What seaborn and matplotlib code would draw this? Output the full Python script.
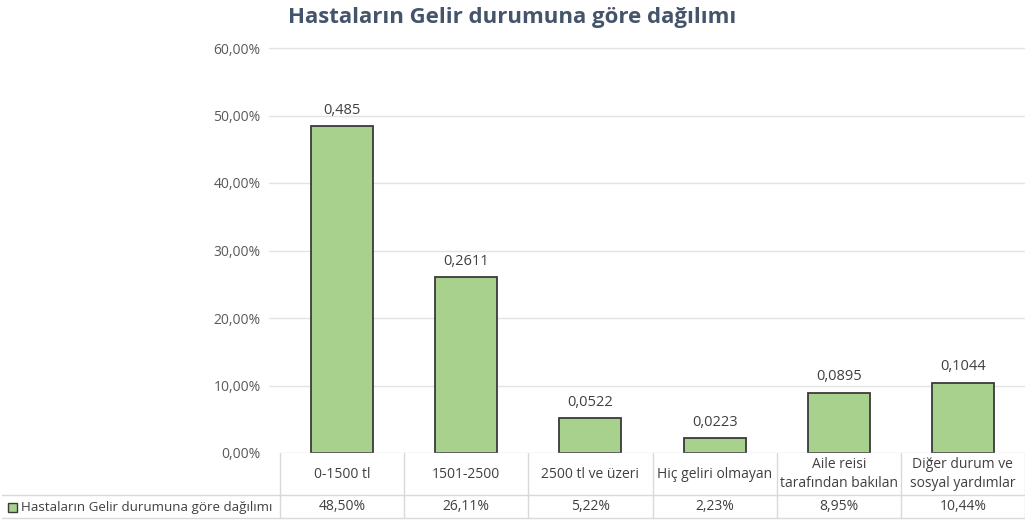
import matplotlib
matplotlib.use("Agg")
import matplotlib.pyplot as plt
import seaborn as sns
import pandas as pd
from matplotlib.lines import Line2D
from matplotlib.patches import Rectangle

categories = ["0-1500 tl", "1501-2500", "2500 tl ve üzeri", "Hiç geliri olmayan",
              "Aile reisi\ntarafından bakılan", "Diğer durum ve\nsosyal yardımlar"]
values = [0.485, 0.2611, 0.0522, 0.0223, 0.0895, 0.1044]
bar_labels = ["0,485", "0,2611", "0,0522", "0,0223", "0,0895", "0,1044"]
table_labels = ["48,50%", "26,11%", "5,22%", "2,23%", "8,95%", "10,44%"]
yticks = [0, 0.1, 0.2, 0.3, 0.4, 0.5, 0.6]
ytick_labels = ["0,00%", "10,00%", "20,00%", "30,00%", "40,00%", "50,00%", "60,00%"]
series_name = "Hastaların Gelir durumuna göre dağılımı"

df = pd.DataFrame({"cat": categories, "val": values})

sns.set_theme(style="white")
plt.rcParams["font.family"] = ["Open Sans", "DejaVu Sans"]

W, H = 1025, 523
fig = plt.figure(figsize=(W / 100, H / 100), dpi=100)
left, right, top, bottom = 280, 1025, 48, 453
ax = fig.add_axes([left / W, (H - bottom) / H, (right - left) / W, (bottom - top) / H])

green = "#A9D18E"
sns.barplot(data=df, x="cat", y="val", color=green, edgecolor="#3A3A3A",
            linewidth=1.3, width=0.5, saturation=1, ax=ax, zorder=3)

ax.set_xlim(-0.5, 5.5)
ax.set_ylim(0, 0.6)
ax.set_yticks(yticks)
ax.set_yticklabels(ytick_labels, color="#595959", fontsize=10)
ax.tick_params(axis="y", length=0, pad=14)
ax.set_xticks([])
ax.set_xlabel("")
ax.set_ylabel("")
for s in ax.spines.values():
    s.set_visible(False)

px = (right - left) / 6
grid_x0 = -0.5 - 11 / px
for y in yticks[1:]:
    ax.add_line(Line2D([grid_x0, 5.5], [y, y], color="#E3E3E3", lw=1, zorder=0, clip_on=False))
ax.axhline(0, color="#D9D9D9", lw=1, zorder=4)

for i, (v, lab) in enumerate(zip(values, bar_labels)):
    ax.text(i, v + 0.012, lab, ha="center", va="bottom", fontsize=10.5, color="#404040")

fig.text(0.5, 1 - 17 / H, "Hastaların Gelir durumuna göre dağılımı", ha="center", va="center",
         fontsize=16, fontweight="bold", color="#44546A")

# data table under the axis
tr = ax.get_xaxis_transform()
def ay(py):
    return (bottom - py) / (bottom - top)
grid_c = "#D9D9D9"
for k in range(7):
    x = -0.5 + k
    ax.add_line(Line2D([x, x], [ay(453), ay(518)], transform=tr, color=grid_c, lw=1, clip_on=False))
x_start = -0.5 + (2 - left) / px
for py in (495, 518):
    ax.add_line(Line2D([x_start, 5.5], [ay(py), ay(py)], transform=tr, color=grid_c, lw=1, clip_on=False))
for i, c in enumerate(categories):
    ax.text(i, ay(474), c, transform=tr, ha="center", va="center", fontsize=10,
            color="#404040", linespacing=1.3, clip_on=False)
    ax.text(i, ay(507), table_labels[i], transform=tr, ha="center", va="center", fontsize=10,
            color="#404040", clip_on=False)

fig.add_artist(Rectangle((8 / W, 1 - 512 / H), 9 / W, 9 / H, transform=fig.transFigure,
                         facecolor=green, edgecolor="#3A3A3A", lw=1))
fig.text(21 / W, 1 - 507 / H, series_name, ha="left", va="center", fontsize=9.6, color="#404040")

fig.savefig("out.png", dpi=100)
